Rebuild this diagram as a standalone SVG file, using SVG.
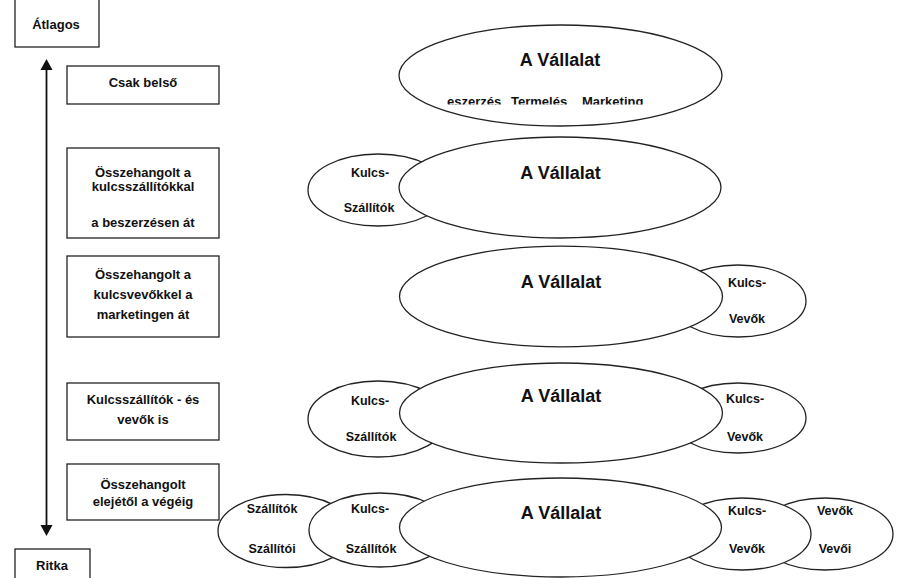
<svg xmlns="http://www.w3.org/2000/svg" width="901" height="578" viewBox="0 0 901 578">
<style>
.box{fill:#fff;stroke:#222;stroke-width:1.3}
.ell{fill:#fff;stroke:#222;stroke-width:1.3}
.t{font-family:"Liberation Sans",Arial,sans-serif;font-weight:bold;font-size:13px;fill:#111;text-anchor:middle}
.big{font-size:18px}
.s{font-size:12.5px}
</style>
<defs>
<clipPath id="clip1"><rect x="445" y="80" width="260" height="24.5"/></clipPath>
</defs>
<rect width="901" height="578" fill="#fff"/>
<g id="connectors">
<line x1="46.5" y1="68" x2="46.5" y2="526" stroke="#111" stroke-width="1.8"/>
<polygon points="46.5,59 40.5,70 52.5,70" fill="#111"/>
<polygon points="46.5,536 40.5,525 52.5,525" fill="#111"/>
</g>
<g id="atlagos"><rect class="box" x="15" y="-5" width="84" height="52"/><text class="t" x="56" y="29">Átlagos</text></g>
<g id="ritka"><rect class="box" x="15" y="549" width="75" height="40"/><text class="t" x="52" y="570">Ritka</text></g>
<g id="box1"><rect class="box" x="67" y="66" width="152" height="38"/><text class="t" x="143" y="87">Csak belső</text></g>
<g id="box2"><rect class="box" x="67" y="148" width="152" height="90"/>
<text class="t" x="143" y="177">Összehangolt a</text>
<text class="t" x="143" y="191">kulcsszállítókkal</text>
<text class="t" x="143" y="227">a beszerzésen át</text></g>
<g id="box3"><rect class="box" x="67" y="256" width="152" height="81"/>
<text class="t" x="143" y="279">Összehangolt a</text>
<text class="t" x="143" y="299">kulcsvevőkkel a</text>
<text class="t" x="143" y="319">marketingen át</text></g>
<g id="box4"><rect class="box" x="67" y="383" width="152" height="57"/>
<text class="t" x="143" y="404">Kulcsszállítók - és</text>
<text class="t" x="143" y="424">vevők is</text></g>
<g id="box5"><rect class="box" x="67" y="464" width="152" height="56"/>
<text class="t" x="143" y="489">Összehangolt</text>
<text class="t" x="143" y="506">elejétől a végéig</text></g>

<g id="row1"><ellipse class="ell" cx="560.5" cy="75.5" rx="161.5" ry="50.5"/>
<text class="t big" x="560" y="66">A Vállalat</text>
<g clip-path="url(#clip1)" class="t" style="text-anchor:start">
<text x="447" y="106" style="text-anchor:start">eszerzés</text>
<text x="511" y="106" style="text-anchor:start">Termelés</text>
<text x="582" y="106" style="text-anchor:start">Marketing</text>
</g></g>

<g id="row2">
<g id="r2-ks"><ellipse class="ell" cx="378" cy="190" rx="70" ry="36"/>
<text class="t s" x="370" y="177">Kulcs-</text><text class="t s" x="369" y="212">Szállítók</text></g>
<g id="r2-v"><ellipse class="ell" cx="560" cy="187.5" rx="161" ry="50.5"/>
<text class="t big" x="560.5" y="179">A Vállalat</text></g>
</g>

<g id="row3">
<g id="r3-kv"><ellipse class="ell" cx="738" cy="301" rx="68" ry="36"/>
<text class="t s" x="747" y="287">Kulcs-</text><text class="t s" x="747" y="323">Vevők</text></g>
<g id="r3-v"><ellipse class="ell" cx="561" cy="296.5" rx="161.5" ry="50.3"/>
<text class="t big" x="561" y="288">A Vállalat</text></g>
</g>

<g id="row4">
<g id="r4-ks"><ellipse class="ell" cx="378" cy="419" rx="70" ry="38"/>
<text class="t s" x="370" y="405">Kulcs-</text><text class="t s" x="371" y="441">Szállítók</text></g>
<g id="r4-kv"><ellipse class="ell" cx="738" cy="418" rx="68" ry="35"/>
<text class="t s" x="745" y="403">Kulcs-</text><text class="t s" x="745" y="441">Vevők</text></g>
<g id="r4-v"><ellipse class="ell" cx="561" cy="413" rx="161.5" ry="50"/>
<text class="t big" x="561" y="402">A Vállalat</text></g>
</g>

<g id="row5">
<g id="r5-ssz"><ellipse class="ell" cx="286" cy="531" rx="68" ry="36.5"/>
<text class="t s" x="272" y="513">Szállítók</text><text class="t s" x="272" y="553">Szállítói</text></g>
<g id="r5-vv"><ellipse class="ell" cx="825" cy="534" rx="68" ry="36"/>
<text class="t s" x="835" y="515">Vevők</text><text class="t s" x="835" y="553">Vevői</text></g>
<g id="r5-ks"><ellipse class="ell" cx="380" cy="530" rx="71" ry="37"/>
<text class="t s" x="370" y="513">Kulcs-</text><text class="t s" x="371" y="553">Szállítók</text></g>
<g id="r5-kv"><ellipse class="ell" cx="742" cy="534" rx="69" ry="36"/>
<text class="t s" x="747" y="515">Kulcs-</text><text class="t s" x="747" y="553">Vevők</text></g>
<g id="r5-v"><ellipse class="ell" cx="560.5" cy="527.5" rx="161" ry="49.5"/>
<text class="t big" x="561" y="519">A Vállalat</text></g>
</g>
</svg>
